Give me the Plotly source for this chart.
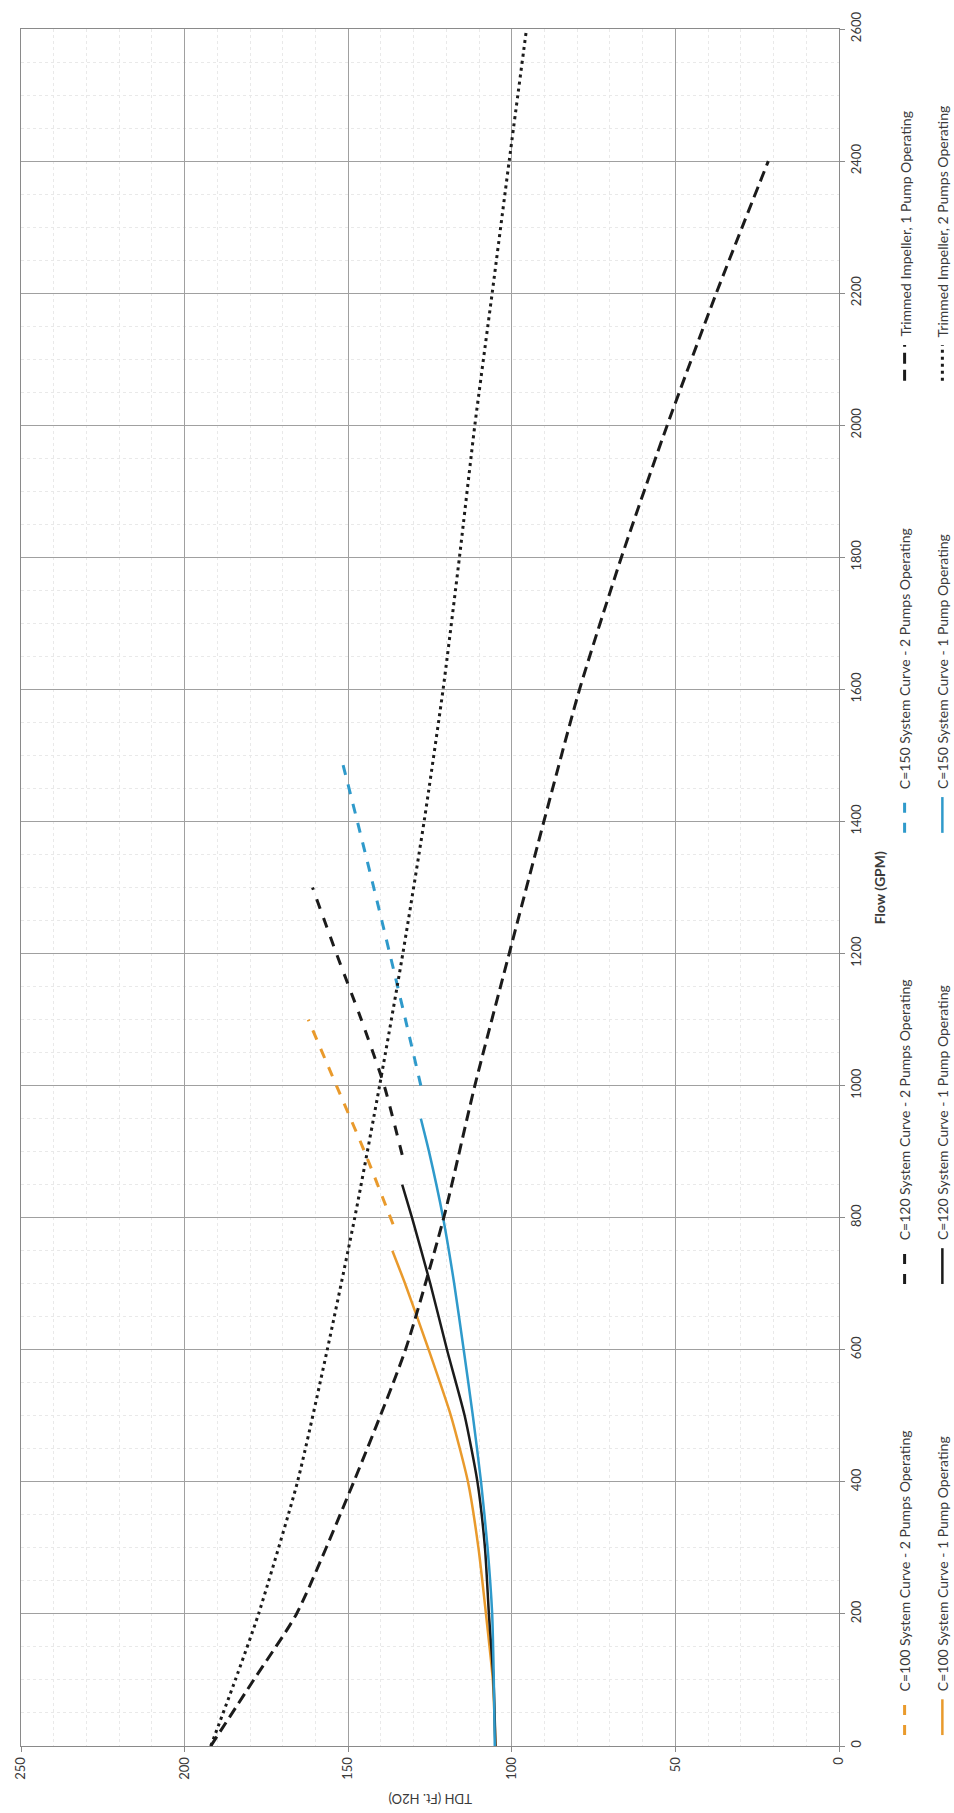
import plotly.graph_objects as go

# ---- data: flow (GPM) and total dynamic head (ft H2O) ----
flow_c100_1p = [0, 100, 200, 300, 400, 500, 600, 700, 750]
tdh_c100_1p = [105.0, 105.8, 107.9, 110.2, 113.4, 118.6, 125.4, 132.6, 136.5]

flow_c100_2p = [790, 900, 1000, 1100]
tdh_c100_2p = [136.3, 145.0, 153.6, 162.2]

flow_c120_1p = [0, 100, 200, 300, 400, 500, 600, 700, 800, 850]
tdh_c120_1p = [105.0, 105.6, 107.0, 108.2, 110.5, 114.4, 119.8, 124.9, 130.5, 133.5]

flow_c120_2p = [895, 1000, 1100, 1200, 1300]
tdh_c120_2p = [133.5, 139.0, 146.0, 153.6, 160.9]

flow_c150_1p = [0, 100, 200, 300, 400, 500, 600, 700, 800, 900, 950]
tdh_c150_1p = [105.2, 105.5, 106.0, 107.4, 109.4, 111.9, 114.7, 117.6, 121.0, 125.3, 127.8]

flow_c150_2p = [1000, 1100, 1200, 1300, 1400, 1500]
tdh_c150_2p = [127.8, 132.5, 137.3, 142.2, 147.2, 152.3]

flow_trim_1p = [0, 100, 200, 400, 600, 800, 1000, 1200, 1400, 1600, 1800, 2000, 2200, 2400]
tdh_trim_1p = [192.0, 178.9, 165.8, 148.3, 132.5, 120.8, 111.3, 100.8, 90.2, 79.3, 66.5, 52.5, 37.5, 21.6]

flow_trim_2p = [0, 100, 200, 400, 600, 800, 1000, 1200, 1400, 1600, 1800, 2000, 2200, 2400, 2600]
tdh_trim_2p = [192.0, 184.5, 177.4, 165.5, 156.4, 148.0, 140.4, 133.3, 126.8, 121.0, 116.0, 111.3, 106.0, 100.8, 95.5]

tdh_ticks = [0, 50, 100, 150, 200, 250]
flow_ticks = list(range(0, 2601, 200))

ORANGE = "#E99A2C"
BLACK = "#1b1b1b"
BLUE = "#2F9ACB"
SYS_DASH = "10px,10px"
TRIM_DASH = "11px,6px"
DOT = "3px,4px"

# name, flows, heads, colour, dash, width
series = [
    ("C=100 System Curve - 2 Pumps Operating", flow_c100_2p, tdh_c100_2p, ORANGE, SYS_DASH, 3),
    ("C=100 System Curve - 1 Pump Operating", flow_c100_1p, tdh_c100_1p, ORANGE, "solid", 2.5),
    ("C=120 System Curve - 2 Pumps Operating", flow_c120_2p, tdh_c120_2p, BLACK, SYS_DASH, 3),
    ("C=120 System Curve - 1 Pump Operating", flow_c120_1p, tdh_c120_1p, BLACK, "solid", 2.5),
    ("C=150 System Curve - 2 Pumps Operating", flow_c150_2p, tdh_c150_2p, BLUE, SYS_DASH, 3),
    ("C=150 System Curve - 1 Pump Operating", flow_c150_1p, tdh_c150_1p, BLUE, "solid", 2.5),
    ("Trimmed Impeller, 1 Pump Operating", flow_trim_1p, tdh_trim_1p, BLACK, TRIM_DASH, 3),
    ("Trimmed Impeller, 2 Pumps Operating", flow_trim_2p, tdh_trim_2p, BLACK, DOT, 3),
]

W, H = 954, 1813
ML, MR, MT, MB = 16, 115, 18, 67
PW, PH = W - ML - MR, H - MT - MB


def px(x, y):
    """pixel position on the page -> paper coordinates"""
    return (x - ML) / PW, (H - MB - y) / PH


fig = go.Figure()
for name, fl, hd, col, dash, wd in series:
    fig.add_trace(go.Scatter(
        x=hd, y=fl, mode="lines", name=name, showlegend=False,
        line=dict(color=col, width=wd, dash=dash, shape="spline", smoothing=0.6),
    ))

FONT = "Lato, 'Open Sans', sans-serif"
TXT = "#3a3a3a"

# rotated legend: two rows, four columns reading bottom-to-top
row_x = [905, 943]
col_bottom = [1735, 1281, 827, 372]
annotations = []
shapes = []
for i, (name, fl, hd, col, dash, wd) in enumerate(series):
    c, r = divmod(i, 2)
    x0, yb = px(row_x[r], col_bottom[c])
    _, yt = px(row_x[r], col_bottom[c] - 36)
    shapes.append(dict(type="line", xref="paper", yref="paper", x0=x0, x1=x0, y0=yb, y1=yt,
                       line=dict(color=col, width=wd, dash=dash)))
    _, ytxt = px(row_x[r], col_bottom[c] - 42)
    annotations.append(dict(text=name, xref="paper", yref="paper", x=x0, y=ytxt,
                            xanchor="center", yanchor="bottom", textangle=-90, showarrow=False,
                            font=dict(family=FONT, size=14, color=TXT)))

# axis titles
tx, ty = px(ML + PW / 2, 1800)
annotations.append(dict(text="TDH (Ft. H2O)", xref="paper", yref="paper", x=tx, y=ty,
                        xanchor="center", yanchor="middle", textangle=180, showarrow=False,
                        font=dict(family=FONT, size=13, color=TXT)))
fx, fy = px(880, MT + PH / 2)
annotations.append(dict(text="<b>Flow (GPM)</b>", xref="paper", yref="paper", x=fx, y=fy,
                        xanchor="center", yanchor="middle", textangle=-90, showarrow=False,
                        font=dict(family=FONT, size=14, color=TXT)))

fig.update_layout(
    width=W, height=H,
    margin=dict(l=ML, r=MR, t=MT, b=MB),
    paper_bgcolor="white", plot_bgcolor="white",
    showlegend=False,
    annotations=annotations, shapes=shapes,
    font=dict(family=FONT, size=13, color=TXT),
)
fig.update_xaxes(
    range=[250, 0], tickvals=tdh_ticks, tickangle=-90,
    showgrid=True, gridcolor="#a0a0a0", gridwidth=1,
    minor=dict(dtick=10, showgrid=True, gridcolor="#e9e9e9", griddash="dot", gridwidth=1),
    showline=True, linecolor="#8a8a8a", linewidth=1, mirror=True,
    ticks="outside", ticklen=5, tickcolor="#8a8a8a",
    zeroline=False, tickfont=dict(family=FONT, size=13, color=TXT),
)
fig.update_yaxes(
    range=[0, 2600], tickvals=flow_ticks, side="right", tickangle=-90,
    showgrid=True, gridcolor="#a0a0a0", gridwidth=1,
    minor=dict(dtick=50, showgrid=True, gridcolor="#e9e9e9", griddash="dot", gridwidth=1),
    showline=True, linecolor="#8a8a8a", linewidth=1, mirror=True,
    ticks="outside", ticklen=5, tickcolor="#8a8a8a",
    zeroline=False, tickfont=dict(family=FONT, size=13, color=TXT),
)

fig.write_html("out.html")
